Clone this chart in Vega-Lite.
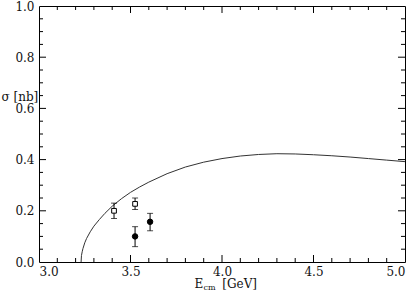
{
  "$schema": "https://vega.github.io/schema/vega-lite/v6.json",
  "width": 366,
  "height": 256,
  "autosize": {"type": "none"},
  "padding": {"left": 39, "top": 6, "right": 9, "bottom": 31},
  "background": "white",
  "config": {
    "view": {"stroke": "#000000", "strokeWidth": 1},
    "axis": {"grid": false, "titleFontWeight": "normal"}
  },
  "datasets": {
    "curve": [
      {"E": 3.23, "s": 0.0},
      {"E": 3.232, "s": 0.025},
      {"E": 3.236, "s": 0.04},
      {"E": 3.24, "s": 0.052},
      {"E": 3.25, "s": 0.075},
      {"E": 3.26, "s": 0.092},
      {"E": 3.28, "s": 0.118},
      {"E": 3.30, "s": 0.14},
      {"E": 3.33, "s": 0.166},
      {"E": 3.36, "s": 0.19},
      {"E": 3.40, "s": 0.218},
      {"E": 3.45, "s": 0.247},
      {"E": 3.50, "s": 0.272},
      {"E": 3.55, "s": 0.293},
      {"E": 3.60, "s": 0.312},
      {"E": 3.70, "s": 0.345},
      {"E": 3.80, "s": 0.371},
      {"E": 3.90, "s": 0.39},
      {"E": 4.00, "s": 0.404},
      {"E": 4.10, "s": 0.414},
      {"E": 4.20, "s": 0.42},
      {"E": 4.30, "s": 0.423},
      {"E": 4.40, "s": 0.422},
      {"E": 4.50, "s": 0.419},
      {"E": 4.60, "s": 0.415},
      {"E": 4.70, "s": 0.41},
      {"E": 4.80, "s": 0.404},
      {"E": 4.90, "s": 0.398},
      {"E": 5.00, "s": 0.392}
    ],
    "pts": [
      {"E": 3.41, "s": 0.2, "lo": 0.17, "hi": 0.23, "kind": "open"},
      {"E": 3.525, "s": 0.227, "lo": 0.205, "hi": 0.25, "kind": "open"},
      {"E": 3.525, "s": 0.1, "lo": 0.06, "hi": 0.138, "kind": "filled"},
      {"E": 3.607, "s": 0.157, "lo": 0.122, "hi": 0.19, "kind": "filled"}
    ],
    "xticks": [
      {"v": 3.1, "major": false}, {"v": 3.2, "major": false}, {"v": 3.3, "major": false}, {"v": 3.4, "major": false},
      {"v": 3.5, "major": true},
      {"v": 3.6, "major": false}, {"v": 3.7, "major": false}, {"v": 3.8, "major": false}, {"v": 3.9, "major": false},
      {"v": 4.0, "major": true},
      {"v": 4.1, "major": false}, {"v": 4.2, "major": false}, {"v": 4.3, "major": false}, {"v": 4.4, "major": false},
      {"v": 4.5, "major": true},
      {"v": 4.6, "major": false}, {"v": 4.7, "major": false}, {"v": 4.8, "major": false}, {"v": 4.9, "major": false}
    ],
    "yticks": [
      {"v": 0.05, "major": false}, {"v": 0.1, "major": false}, {"v": 0.15, "major": false},
      {"v": 0.2, "major": true},
      {"v": 0.25, "major": false}, {"v": 0.3, "major": false}, {"v": 0.35, "major": false},
      {"v": 0.4, "major": true},
      {"v": 0.45, "major": false}, {"v": 0.5, "major": false}, {"v": 0.55, "major": false},
      {"v": 0.6, "major": true},
      {"v": 0.65, "major": false}, {"v": 0.7, "major": false}, {"v": 0.75, "major": false},
      {"v": 0.8, "major": true},
      {"v": 0.85, "major": false}, {"v": 0.9, "major": false}, {"v": 0.95, "major": false}
    ]
  },
  "layer": [
    {
      "data": {"name": "curve"},
      "mark": {"type": "line", "color": "#333333", "strokeWidth": 1},
      "encoding": {
        "x": {
          "field": "E", "type": "quantitative",
          "scale": {"domain": [3, 5], "nice": false, "zero": false},
          "axis": {
            "orient": "bottom",
            "values": [3, 3.5, 4, 4.5, 5],
            "format": ".1f",
            "ticks": false,
            "domain": false,
            "labelPadding": 4,
            "labelFont": "DejaVu Serif",
            "labelFontSize": 12,
            "labelColor": "#111111",
            "title": "E\u00a0\u00a0\u00a0\u00a0\u00a0[GeV]",
            "titleFont": "DejaVu Serif",
            "titleFontSize": 12,
            "titleColor": "#111111",
            "titleAlign": "left",
            "titleBaseline": "middle",
            "titleX": 155,
            "titleY": 21
          }
        },
        "y": {
          "field": "s", "type": "quantitative",
          "scale": {"domain": [0, 1], "nice": false, "zero": true},
          "axis": {
            "orient": "left",
            "values": [0, 0.2, 0.4, 0.6, 0.8, 1.0],
            "format": ".1f",
            "ticks": false,
            "domain": false,
            "labelPadding": 5,
            "labelFont": "DejaVu Serif",
            "labelFontSize": 12,
            "labelColor": "#111111",
            "title": "σ [nb]",
            "titleFont": "DejaVu Serif",
            "titleFontSize": 12,
            "titleColor": "#111111",
            "titleAngle": 0,
            "titleAlign": "left",
            "titleBaseline": "middle",
            "titleX": -38,
            "titleY": 90
          }
        }
      }
    },
    {
      "data": {"name": "xticks"},
      "transform": [{"filter": "datum.major"}],
      "mark": {"type": "rule", "color": "#000000", "strokeWidth": 1},
      "encoding": {
        "x": {"field": "v", "type": "quantitative", "axis": null},
        "y": {"datum": 0, "type": "quantitative", "axis": null},
        "y2": {"datum": 0.0273}
      }
    },
    {
      "data": {"name": "xticks"},
      "transform": [{"filter": "!datum.major"}],
      "mark": {"type": "rule", "color": "#000000", "strokeWidth": 1},
      "encoding": {
        "x": {"field": "v", "type": "quantitative", "axis": null},
        "y": {"datum": 0, "type": "quantitative", "axis": null},
        "y2": {"datum": 0.0156}
      }
    },
    {
      "data": {"name": "xticks"},
      "transform": [{"filter": "datum.major"}],
      "mark": {"type": "rule", "color": "#000000", "strokeWidth": 1},
      "encoding": {
        "x": {"field": "v", "type": "quantitative", "axis": null},
        "y": {"datum": 1, "type": "quantitative", "axis": null},
        "y2": {"datum": 0.9727}
      }
    },
    {
      "data": {"name": "xticks"},
      "transform": [{"filter": "!datum.major"}],
      "mark": {"type": "rule", "color": "#000000", "strokeWidth": 1},
      "encoding": {
        "x": {"field": "v", "type": "quantitative", "axis": null},
        "y": {"datum": 1, "type": "quantitative", "axis": null},
        "y2": {"datum": 0.9844}
      }
    },
    {
      "data": {"name": "yticks"},
      "transform": [{"filter": "datum.major"}],
      "mark": {"type": "rule", "color": "#000000", "strokeWidth": 1},
      "encoding": {
        "y": {"field": "v", "type": "quantitative", "axis": null},
        "x": {"datum": 3, "type": "quantitative", "axis": null},
        "x2": {"datum": 3.0383}
      }
    },
    {
      "data": {"name": "yticks"},
      "transform": [{"filter": "!datum.major"}],
      "mark": {"type": "rule", "color": "#000000", "strokeWidth": 1},
      "encoding": {
        "y": {"field": "v", "type": "quantitative", "axis": null},
        "x": {"datum": 3, "type": "quantitative", "axis": null},
        "x2": {"datum": 3.0219}
      }
    },
    {
      "data": {"name": "yticks"},
      "transform": [{"filter": "datum.major"}],
      "mark": {"type": "rule", "color": "#000000", "strokeWidth": 1},
      "encoding": {
        "y": {"field": "v", "type": "quantitative", "axis": null},
        "x": {"datum": 5, "type": "quantitative", "axis": null},
        "x2": {"datum": 4.9617}
      }
    },
    {
      "data": {"name": "yticks"},
      "transform": [{"filter": "!datum.major"}],
      "mark": {"type": "rule", "color": "#000000", "strokeWidth": 1},
      "encoding": {
        "y": {"field": "v", "type": "quantitative", "axis": null},
        "x": {"datum": 5, "type": "quantitative", "axis": null},
        "x2": {"datum": 4.9781}
      }
    },
    {
      "data": {"name": "pts"},
      "mark": {"type": "rule", "color": "#000000", "strokeWidth": 1},
      "encoding": {
        "x": {"field": "E", "type": "quantitative", "axis": null},
        "y": {"field": "lo", "type": "quantitative", "axis": null},
        "y2": {"field": "hi"}
      }
    },
    {
      "data": {"name": "pts"},
      "mark": {"type": "tick", "color": "#000000", "size": 6, "thickness": 1, "orient": "horizontal"},
      "encoding": {
        "x": {"field": "E", "type": "quantitative", "axis": null},
        "y": {"field": "lo", "type": "quantitative", "axis": null}
      }
    },
    {
      "data": {"name": "pts"},
      "mark": {"type": "tick", "color": "#000000", "size": 6, "thickness": 1, "orient": "horizontal"},
      "encoding": {
        "x": {"field": "E", "type": "quantitative", "axis": null},
        "y": {"field": "hi", "type": "quantitative", "axis": null}
      }
    },
    {
      "data": {"name": "pts"},
      "mark": {"type": "point", "opacity": 1, "strokeWidth": 1, "stroke": "#000000"},
      "encoding": {
        "x": {
          "field": "E", "type": "quantitative",
          "axis": {
            "orient": "top",
            "values": [3, 5],
            "labelExpr": "''",
            "ticks": false,
            "domain": false,
            "title": "cm",
            "titleFont": "DejaVu Serif",
            "titleFontSize": 8,
            "titleColor": "#111111",
            "titleAlign": "left",
            "titleBaseline": "middle",
            "titleX": 164,
            "titleY": 281
          }
        },
        "y": {"field": "s", "type": "quantitative", "axis": null},
        "shape": {
          "field": "kind", "type": "nominal",
          "scale": {"domain": ["open", "filled"], "range": ["square", "circle"]},
          "legend": null
        },
        "fill": {
          "field": "kind", "type": "nominal",
          "scale": {"domain": ["open", "filled"], "range": ["white", "black"]},
          "legend": null
        },
        "size": {
          "field": "kind", "type": "nominal",
          "scale": {"domain": ["open", "filled"], "range": [22, 30]},
          "legend": null
        }
      }
    }
  ],
  "resolve": {"axis": {"x": "independent", "y": "independent"}}
}
